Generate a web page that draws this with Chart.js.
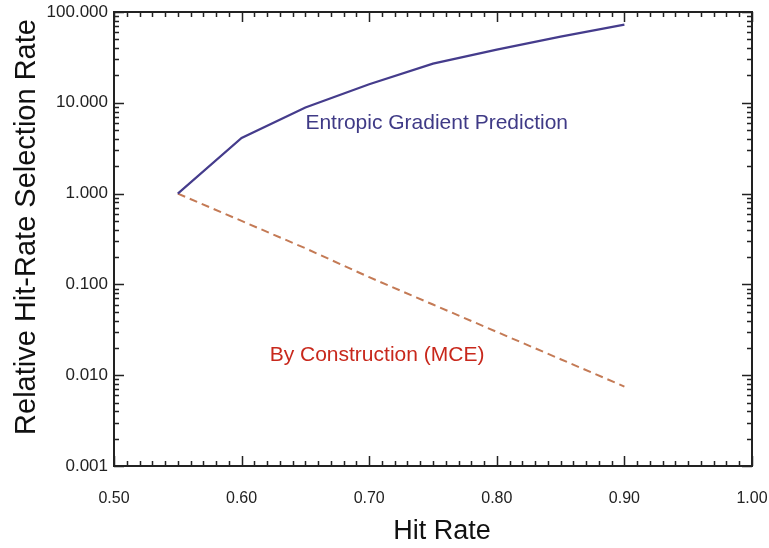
<!DOCTYPE html>
<html>
<head>
<meta charset="utf-8">
<script src="https://cdn.jsdelivr.net/npm/chart.js@4"></script>
<style>
  html, body { margin: 0; padding: 0; background: #fff; }
  #wrap { width: 769px; height: 548px; }
</style>
</head>
<body>
<div id="wrap"><canvas id="graph"></canvas></div>
<script>
// values
const predHitRate = [0.55, 0.60, 0.65, 0.70, 0.75, 0.80, 0.85, 0.90];
const predRate    = [1.0, 4.1, 8.9, 16, 27, 38.5, 53.5, 72.5];
const mceHitRate  = [0.55, 0.60, 0.65, 0.70, 0.75, 0.80, 0.85, 0.90];
const mceRate     = [1.0, 0.5, 0.25, 0.12, 0.06, 0.03, 0.015, 0.0075];
const xTicks = [0.50, 0.60, 0.70, 0.80, 0.90, 1.00];
const yTicks = [0.001, 0.01, 0.1, 1, 10, 100];

const FONT = "'Liberation Sans', Arial, Helvetica, sans-serif";

// IDL-style frame with inward ticks on all four sides
const framePlugin = {
  id: 'frame',
  afterDatasetsDraw(chart) {
    const ctx = chart.ctx;
    const a = chart.chartArea;
    const xs = chart.scales.x, ys = chart.scales.y;
    ctx.save();
    ctx.strokeStyle = '#222';
    ctx.lineWidth = 1.5;
    ctx.beginPath();
    for (let i = 0; i <= 50; i++) {
      let v = 0.5 + i * 0.01;
      let px = Math.round(xs.getPixelForValue(v)) + 0.5;
      let len = (i % 10 === 0) ? 10 : 5;
      ctx.moveTo(px, a.bottom); ctx.lineTo(px, a.bottom - len);
      ctx.moveTo(px, a.top); ctx.lineTo(px, a.top + len);
    }
    for (let d = -3; d <= 2; d++) {
      for (let k = 1; k <= 9; k++) {
        let v = k * Math.pow(10, d);
        if (v > 100.0001) break;
        let py = Math.round(ys.getPixelForValue(v)) + 0.5;
        let len = (k === 1) ? 10 : 5;
        ctx.moveTo(a.left, py); ctx.lineTo(a.left + len, py);
        ctx.moveTo(a.right, py); ctx.lineTo(a.right - len, py);
      }
    }
    ctx.stroke();
    ctx.lineWidth = 2;
    ctx.strokeRect(a.left, a.top, a.right - a.left, a.bottom - a.top);

    // axis titles, drawn by hand so they sit where the original has them
    ctx.fillStyle = '#111';
    ctx.textAlign = 'center';
    ctx.textBaseline = 'middle';
    ctx.font = '27px ' + FONT;
    ctx.fillText('Hit Rate', 442, 532);
    ctx.save();
    ctx.translate(27, 227);
    ctx.rotate(-Math.PI / 2);
    ctx.font = '29px ' + FONT;
    ctx.fillText('Relative Hit-Rate Selection Rate', 0, 0);
    ctx.restore();
    ctx.restore();
  }
};

// series labels written inside the plot
const labelPlugin = {
  id: 'seriesLabels',
  afterDatasetsDraw(chart, args, opts) {
    const ctx = chart.ctx;
    ctx.save();
    ctx.textAlign = 'left';
    ctx.textBaseline = 'middle';
    opts.items.forEach(it => {
      ctx.font = it.font;
      ctx.fillStyle = it.color;
      ctx.fillText(it.text, chart.scales.x.getPixelForValue(it.x), chart.scales.y.getPixelForValue(it.y));
    });
    ctx.restore();
  }
};

new Chart(document.getElementById('graph'), {
  type: 'line',
  data: {
    datasets: [{
      label: 'Entropic Gradient Prediction',
      data: predHitRate.map((h, i) => ({x: h, y: predRate[i]})),
      borderColor: '#453c8c',
      borderWidth: 2.2,
      pointRadius: 0,
      tension: 0,
      order: 0
    }, {
      label: 'By Construction (MCE)',
      data: mceHitRate.map((h, i) => ({x: h, y: mceRate[i]})),
      borderColor: '#c47a55',
      borderWidth: 2,
      borderDash: [8, 5],
      pointRadius: 0,
      tension: 0,
      order: 1
    }]
  },
  options: {
    responsive: true,
    maintainAspectRatio: false,
    animation: false,
    layout: { padding: { top: 12, right: 17, left: 0, bottom: 0 } },
    plugins: {
      legend: { display: false },
      tooltip: { enabled: false },
      seriesLabels: {
        items: [
          { text: 'Entropic Gradient Prediction', x: 0.65, y: 5.9, color: '#3f3a86', font: '21px ' + FONT },
          { text: 'By Construction (MCE)', x: 0.622, y: 0.0165, color: '#c8281c', font: '21px ' + FONT }
        ]
      }
    },
    scales: {
      x: {
        type: 'linear',
        min: 0.5,
        max: 1.0,
        grid: { display: false, drawTicks: false },
        border: { display: false },
        afterBuildTicks: s => { s.ticks = xTicks.map(v => ({value: v})); },
        afterFit: s => { s.height = 82; s.paddingLeft = 0; s.paddingRight = 0; },
        ticks: {
          padding: 23,
          color: '#222',
          font: { family: FONT, size: 16 },
          maxRotation: 0,
          callback: v => v.toFixed(2)
        },
        title: { display: false }
      },
      y: {
        type: 'logarithmic',
        min: 0.001,
        max: 100,
        grid: { display: false, drawTicks: false },
        border: { display: false },
        afterBuildTicks: s => { s.ticks = yTicks.map(v => ({value: v})); },
        afterFit: s => { s.width = 114; s.paddingTop = 0; s.paddingBottom = 0; },
        ticks: {
          padding: 6,
          color: '#222',
          font: { family: FONT, size: 17 },
          callback: v => Number(v).toFixed(3)
        },
        title: { display: false }
      }
    }
  },
  plugins: [framePlugin, labelPlugin]
});
</script>
</body>
</html>
